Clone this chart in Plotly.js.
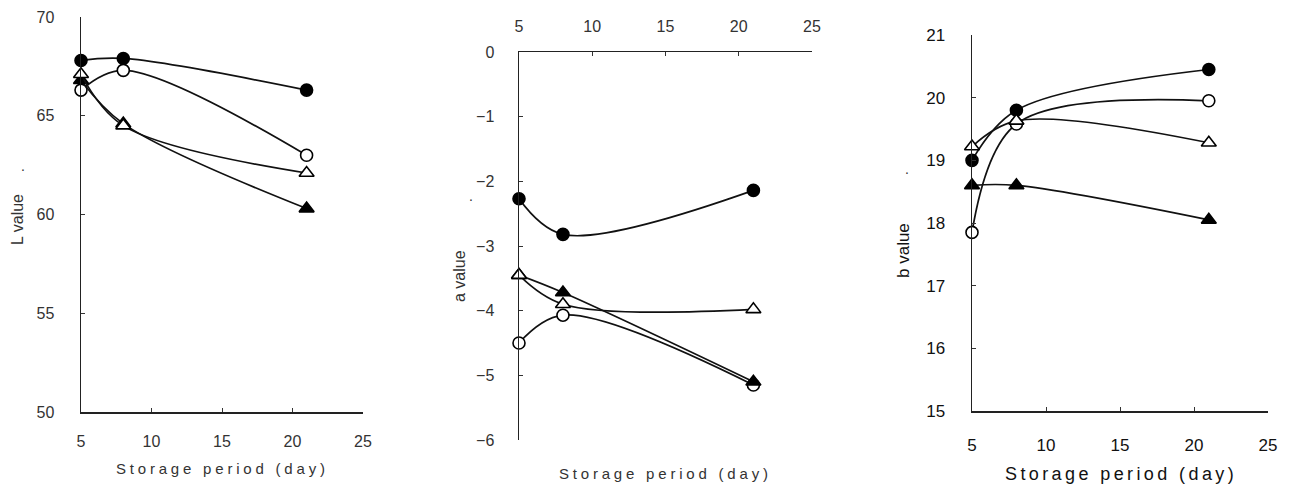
<!DOCTYPE html>
<html>
<head>
<meta charset="utf-8">
<script src="https://cdn.plot.ly/plotly-3.0.1.min.js"></script>
<style>
  html, body { margin: 0; padding: 0; background: #fff; }
  #chart { width: 1290px; height: 486px; }
  .annotation[data-index="0"] text, .annotation[data-index="1"] text { letter-spacing: 3.8px; }
  .annotation[data-index="2"] text { letter-spacing: 3.4px; }
</style>
</head>
<body>
<div id="chart"></div>
<script>
// Storage period (day)
const days = [5, 8, 21];

// L value panel
const L_filledCircle = [67.8, 67.9, 66.3];
const L_openCircle   = [66.3, 67.3, 63.0];
const L_openTri      = [67.1, 64.5, 62.1];
const L_filledTri    = [66.8, 64.6, 60.3];

// a value panel
const a_filledCircle = [-2.27, -2.82, -2.14];
const a_openCircle   = [-4.5, -4.07, -5.15];
const a_openTri      = [-3.45, -3.9, -3.98];
const a_filledTri    = [-3.45, -3.72, -5.1];

// b value panel
const b_filledCircle = [19.0, 19.8, 20.45];
const b_openCircle   = [17.85, 19.58, 19.95];
const b_openTri      = [19.22, 19.63, 19.28];
const b_filledTri    = [18.6, 18.6, 18.05];

const xTicks = [5, 10, 15, 20, 25];
const L_ticks = [50, 55, 60, 65, 70];
const a_ticks = [-6, -5, -4, -3, -2, -1, 0];
const b_ticks = [15, 16, 17, 18, 19, 20, 21];

const W = 1290, H = 486;
const px = v => v / W;
const py = v => 1 - v / H;

function series(y, symbol, filled, xa, ya) {
  return {
    x: days, y: y, xaxis: xa, yaxis: ya,
    type: 'scatter', mode: 'lines+markers',
    line: { color: '#111', width: 1.7, shape: 'spline', smoothing: 1 },
    marker: {
      symbol: symbol, size: symbol.indexOf('triangle') === 0 ? 13 : 12,
      color: filled ? '#000' : '#fff',
      line: { color: '#000', width: 1.6 }
    },
    cliponaxis: false, showlegend: false, hoverinfo: 'x+y'
  };
}

const traces = [
  series(L_filledCircle, 'circle', true, 'x', 'y'),
  series(L_openCircle, 'circle', false, 'x', 'y'),
  series(L_filledTri, 'triangle-up', true, 'x', 'y'),
  series(L_openTri, 'triangle-up', false, 'x', 'y'),

  series(a_filledCircle, 'circle', true, 'x2', 'y2'),
  series(a_openCircle, 'circle', false, 'x2', 'y2'),
  series(a_filledTri, 'triangle-up', true, 'x2', 'y2'),
  series(a_openTri, 'triangle-up', false, 'x2', 'y2'),

  series(b_filledCircle, 'circle', true, 'x3', 'y3'),
  series(b_openCircle, 'circle', false, 'x3', 'y3'),
  series(b_openTri, 'triangle-up', false, 'x3', 'y3'),
  series(b_filledTri, 'triangle-up', true, 'x3', 'y3')
];

const tickFont = { family: 'Liberation Sans, Arial, sans-serif', size: 16, color: '#333' };
const tickFont3 = { family: 'Liberation Sans, Arial, sans-serif', size: 17, color: '#111' };

function axisBase(extra) {
  return Object.assign({
    showgrid: false, zeroline: false, showline: true,
    linecolor: '#222', linewidth: 1.5,
    ticks: 'inside', ticklen: 4, tickwidth: 1, tickcolor: '#333',
    fixedrange: true
  }, extra);
}

const layout = {
  width: W, height: H,
  margin: { l: 0, r: 0, t: 0, b: 0 },
  paper_bgcolor: '#fff', plot_bgcolor: 'rgba(0,0,0,0)',
  font: { family: 'Liberation Sans, Arial, sans-serif', color: '#222' },
  showlegend: false,
  xaxis: axisBase({ domain: [px(81), px(363)], range: [5, 25], tickvals: xTicks, anchor: 'y',
    tickfont: tickFont, ticklabelstandoff: 14 }),
  yaxis: axisBase({ domain: [py(412), py(17)], range: [50, 70], tickvals: L_ticks, anchor: 'x',
    tickfont: tickFont, ticklabelstandoff: 22 }),
  xaxis2: axisBase({ domain: [px(519), px(812)], range: [5, 25], tickvals: xTicks, anchor: 'y2', side: 'top',
    tickfont: tickFont, ticklabelstandoff: 12 }),
  yaxis2: axisBase({ domain: [py(440), py(52)], range: [-6, 0], tickvals: a_ticks, anchor: 'x2',
    tickfont: tickFont, ticklabelstandoff: 20 }),
  xaxis3: axisBase({ domain: [px(972), px(1268)], range: [5, 25], tickvals: xTicks, anchor: 'y3',
    tickfont: tickFont3, ticklabelstandoff: 18 }),
  yaxis3: axisBase({ domain: [py(411), py(35)], range: [15, 21], tickvals: b_ticks, anchor: 'x3',
    tickfont: tickFont3, ticklabelstandoff: 22 }),
  annotations: [
    { text: 'Storage period (day)', xref: 'paper', yref: 'paper', x: px(222), y: py(468),
      xanchor: 'center', yanchor: 'middle', showarrow: false,
      font: { size: 15, color: '#333' } },
    { text: 'Storage period (day)', xref: 'paper', yref: 'paper', x: px(665), y: py(473),
      xanchor: 'center', yanchor: 'middle', showarrow: false,
      font: { size: 15, color: '#333' } },
    { text: 'Storage period (day)', xref: 'paper', yref: 'paper', x: px(1121), y: py(474),
      xanchor: 'center', yanchor: 'middle', showarrow: false,
      font: { size: 18, color: '#111' } },
    { text: 'L value', xref: 'paper', yref: 'paper', x: px(18), y: py(220), textangle: -90,
      xanchor: 'center', yanchor: 'middle', showarrow: false,
      font: { size: 16, color: '#333' } },
    { text: 'a value', xref: 'paper', yref: 'paper', x: px(459), y: py(276), textangle: -90,
      xanchor: 'center', yanchor: 'middle', showarrow: false,
      font: { size: 16, color: '#333' } },
    { text: 'b value', xref: 'paper', yref: 'paper', x: px(903), y: py(250), textangle: -90,
      xanchor: 'center', yanchor: 'middle', showarrow: false,
      font: { size: 17, color: '#111' } },
    { text: '.', xref: 'paper', yref: 'paper', x: px(23), y: py(166),
      xanchor: 'center', yanchor: 'middle', showarrow: false, font: { size: 14, color: '#333' } },
    { text: '.', xref: 'paper', yref: 'paper', x: px(471), y: py(196),
      xanchor: 'center', yanchor: 'middle', showarrow: false, font: { size: 14, color: '#333' } },
    { text: '.', xref: 'paper', yref: 'paper', x: px(907), y: py(169),
      xanchor: 'center', yanchor: 'middle', showarrow: false, font: { size: 14, color: '#333' } }
  ]
};

Plotly.newPlot('chart', traces, layout, { staticPlot: true, displayModeBar: false });
</script>
</body>
</html>
